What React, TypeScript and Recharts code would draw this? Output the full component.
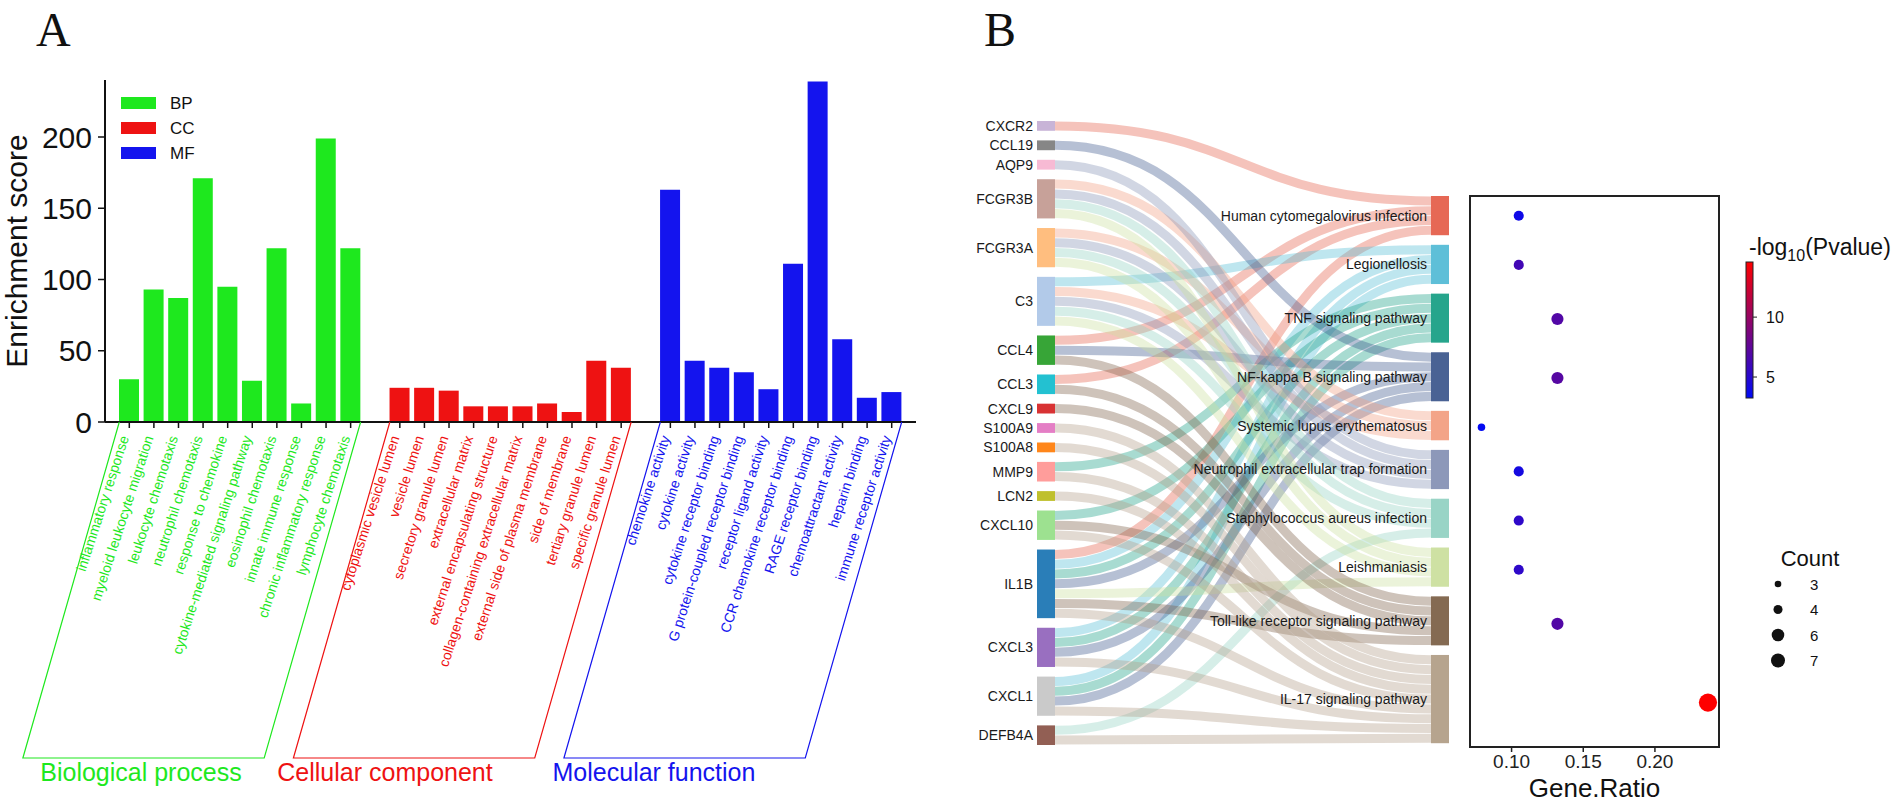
import React from "react";
import {
  BarChart,
  Bar,
  XAxis,
  YAxis,
  Cell,
  Sankey,
  ScatterChart,
  Scatter,
  ReferenceArea,
} from "recharts";

const FONT = "Arial, 'Liberation Sans', Helvetica, sans-serif";

// ---------- Panel A: GO enrichment ----------
const BP_TERMS = [
  "inflammatory response",
  "myeloid leukocyte migration",
  "leukocyte chemotaxis",
  "neutrophil chemotaxis",
  "response to chemokine",
  "cytokine-mediated signaling pathway",
  "eosinophil chemotaxis",
  "innate immune response",
  "chronic inflammatory response",
  "lymphocyte chemotaxis",
];
const BP_SCORES = [30, 93, 87, 171, 95, 29, 122, 13, 199, 122];

const CC_TERMS = [
  "cytoplasmic vesicle lumen",
  "vesicle lumen",
  "secretory granule lumen",
  "extracellular matrix",
  "external encapsulating structure",
  "collagen-containing extracellular matrix",
  "external side of plasma membrane",
  "side of membrane",
  "tertiary granule lumen",
  "specific granule lumen",
];
const CC_SCORES = [24, 24, 22, 11, 11, 11, 13, 7, 43, 38];

const MF_TERMS = [
  "chemokine activity",
  "cytokine activity",
  "cytokine receptor binding",
  "G protein-coupled receptor binding",
  "receptor ligand activity",
  "CCR chemokine receptor binding",
  "RAGE receptor binding",
  "chemoattractant activity",
  "heparin binding",
  "immune receptor activity",
];
const MF_SCORES = [163, 43, 38, 35, 23, 111, 239, 58, 17, 21];

const GROUP_CODES = ["BP", "CC", "MF"];
const GROUP_NAMES = ["Biological process", "Cellular component", "Molecular function"];
const GROUP_COLORS = ["#1ee81e", "#ee1212", "#1414ee"];
const SCORE_TICKS = [0, 50, 100, 150, 200];

// ---------- Panel B: Sankey + dot plot ----------
const GENES = [
  "CXCR2", "CCL19", "AQP9", "FCGR3B", "FCGR3A", "C3", "CCL4", "CCL3", "CXCL9",
  "S100A9", "S100A8", "MMP9", "LCN2", "CXCL10", "IL1B", "CXCL3", "CXCL1", "DEFB4A",
];
const GENE_COLORS = [
  "#c5b0d5", "#7f7f7f", "#f7b6d2", "#c49c94", "#ffbb78", "#aec7e8", "#2ca02c", "#17becf", "#d62728",
  "#e377c2", "#ff7f0e", "#ff9896", "#bcbd22", "#98df8a", "#1f77b4", "#9467bd", "#c7c7c7", "#8c564b",
];
const PATHWAYS = [
  "Human cytomegalovirus infection",
  "Legionellosis",
  "TNF signaling pathway",
  "NF-kappa B signaling pathway",
  "Systemic lupus erythematosus",
  "Neutrophil extracellular trap formation",
  "Staphylococcus aureus infection",
  "Leishmaniasis",
  "Toll-like receptor signaling pathway",
  "IL-17 signaling pathway",
];
const PATHWAY_COLORS = [
  "#e5604c", "#55bcd6", "#1aa086", "#3f5a8e", "#f29f82",
  "#8792b5", "#94d2c3", "#cbdf9e", "#7d6249", "#b29f88",
];
const PATHWAY_GENES = [
  ["CXCR2", "CCL4", "CCL3", "IL1B"],
  ["C3", "IL1B", "CXCL3", "CXCL1"],
  ["MMP9", "CXCL10", "IL1B", "CXCL3", "CXCL1"],
  ["CCL19", "CCL4", "IL1B", "CXCL3", "CXCL1"],
  ["FCGR3B", "FCGR3A", "C3"],
  ["AQP9", "FCGR3B", "FCGR3A", "C3"],
  ["FCGR3B", "FCGR3A", "C3", "DEFB4A"],
  ["FCGR3B", "FCGR3A", "C3", "IL1B"],
  ["CCL4", "CCL3", "CXCL9", "CXCL10", "IL1B"],
  ["S100A9", "S100A8", "MMP9", "LCN2", "CXCL10", "IL1B", "CXCL3", "CXCL1", "DEFB4A"],
];
const GENE_RATIO = [0.105, 0.105, 0.132, 0.132, 0.079, 0.105, 0.105, 0.105, 0.132, 0.237];
const NEG_LOG_P = [3.9, 6.2, 6.9, 7.1, 3.4, 4.2, 5.3, 5.3, 6.9, 14.6];
const P_RANGE = [3.25, 14.6];
const P_TICKS = [5, 10];
const RATIO_TICKS = [0.1, 0.15, 0.2];
const RATIO_DOMAIN = [0.071, 0.2447];
const COUNT_LEGEND = [3, 4, 6, 7];

// ---------- layout ----------
const A_LEFT = 105;
const A_RIGHT = 916;
const A_PAD = 12;
const A_AXIS_Y = 422;
const TICK_LEN = 6;
const HALF_BAR = 10;
const BRACKET_BOTTOM = 758;
const SLANT = 0.287;
const GROUP_LABEL_X = [141, 385, 654];
const GROUP_LABEL_Y = 772;

const SK_LEFT = 917;
const SK_TOP = 100;
const SK_MARGIN = { top: 21, left: 120, right: 5, bottom: 20 };
const SK_PAD = 9.6;
const RIGHT_SHIFT = 75; // pathway column starts lower than gene column

type GoRow = { term: string; score: number | null; group: number };
const GO_ROWS: GoRow[] = [];
[
  [BP_TERMS, BP_SCORES],
  [CC_TERMS, CC_SCORES],
  [MF_TERMS, MF_SCORES],
].forEach(([terms, scores], g) => {
  if (g > 0) GO_ROWS.push({ term: "", score: null, group: -1 });
  (terms as string[]).forEach((t, i) => GO_ROWS.push({ term: t, score: (scores as number[])[i], group: g }));
});
const STEP = (A_RIGHT - A_LEFT - 2 * A_PAD) / GO_ROWS.length;

const GoTick = (props: any) => {
  const { x, index } = props;
  const row = GO_ROWS[index];
  if (!row || row.group < 0) return null;
  const color = GROUP_COLORS[row.group];
  const y0 = A_AXIS_Y;
  const lx = x - 5;
  const ly = y0 + 14;
  const members = GO_ROWS.map((r, i) => (r.group === row.group ? i : -1)).filter((i) => i >= 0);
  const first = members[0];
  const last = members[members.length - 1];
  const drop = BRACKET_BOTTOM - y0;
  const leftTop = x - (index - first) * STEP - HALF_BAR;
  const rightTop = x + (last - index) * STEP + HALF_BAR;
  return (
    <g>
      <line x1={x} x2={x} y1={y0} y2={y0 + TICK_LEN} stroke="#111" strokeWidth={1.5} />
      <text
        x={lx}
        y={ly}
        transform={`rotate(-72 ${lx} ${ly})`}
        textAnchor="end"
        dominantBaseline="central"
        fontSize={14}
        fontFamily={FONT}
        fill={color}
      >
        {row.term}
      </text>
      {index === last && (
        <g>
          <polyline
            points={`${leftTop},${y0} ${leftTop - drop * SLANT},${BRACKET_BOTTOM} ${rightTop - drop * SLANT},${BRACKET_BOTTOM} ${rightTop},${y0}`}
            fill="none"
            stroke={color}
            strokeWidth={1.2}
          />
          <text
            x={GROUP_LABEL_X[row.group]}
            y={GROUP_LABEL_Y}
            textAnchor="middle"
            dominantBaseline="central"
            fontSize={25}
            fontFamily={FONT}
            fill={color}
          >
            {GROUP_NAMES[row.group]}
          </text>
        </g>
      )}
    </g>
  );
};

// sankey data
const SANKEY_NODES = [...GENES, ...PATHWAYS].map((name) => ({ name }));
const SANKEY_LINKS: { source: number; target: number; value: number }[] = [];
PATHWAY_GENES.forEach((genes, p) => {
  genes.forEach((g) => {
    SANKEY_LINKS.push({ source: GENES.indexOf(g), target: GENES.length + p, value: 1 });
  });
});
const SANKEY_DATA = { nodes: SANKEY_NODES, links: SANKEY_LINKS };

const nodeColor = (name: string) => {
  const gi = GENES.indexOf(name);
  if (gi >= 0) return GENE_COLORS[gi];
  return PATHWAY_COLORS[PATHWAYS.indexOf(name)];
};

const SankeyNode = (props: any) => {
  const { x, y, width, height, payload } = props;
  const isPath = PATHWAYS.indexOf(payload.name) >= 0;
  const yy = y + (isPath ? RIGHT_SHIFT : 0);
  return (
    <g>
      <rect x={x} y={yy} width={width} height={height} fill={nodeColor(payload.name)} fillOpacity={0.95} />
      <text
        x={x - 4}
        y={yy + height / 2}
        textAnchor="end"
        dominantBaseline="central"
        fontSize={14}
        fontFamily={FONT}
        fill="#1a1a1a"
      >
        {payload.name}
      </text>
    </g>
  );
};

const SankeyLink = (props: any) => {
  const { sourceX, sourceY, targetX, targetY, sourceControlX, targetControlX, linkWidth, payload } = props;
  const ty = targetY + RIGHT_SHIFT;
  const color = nodeColor(payload.target.name);
  return (
    <path
      d={`M${sourceX},${sourceY}C${sourceControlX},${sourceY} ${targetControlX},${ty} ${targetX},${ty}`}
      fill="none"
      stroke={color}
      strokeOpacity={0.38}
      strokeWidth={Math.max(1, linkWidth - 0.8)}
    />
  );
};

// dot plot rows, placed at the sankey node centres (gene units + node gaps)
const GAP_UNITS = 0.98;
const COUNTS = PATHWAY_GENES.map((g) => g.length);
const Y_MAX = COUNTS.reduce((a, b) => a + b, 0) + GAP_UNITS * (COUNTS.length - 1);
let acc = 0;
const DOT_ROWS = PATHWAYS.map((name, i) => {
  const pos = acc + COUNTS[i] / 2;
  acc += COUNTS[i] + GAP_UNITS;
  return { name, ratio: GENE_RATIO[i], pos, count: COUNTS[i], p: NEG_LOG_P[i] };
});

const pColor = (v: number) => {
  const t = Math.max(0, Math.min(1, (v - P_RANGE[0]) / (P_RANGE[1] - P_RANGE[0])));
  return `rgb(${Math.round(255 * t)},${Math.round(10 * (1 - t))},${Math.round(245 * (1 - t))})`;
};
const dotRadius = (c: number) => Math.sqrt(14 + 11.5 * (c - 3));
const legendRadius = (c: number) => Math.sqrt(11 + 9.5 * (c - 3));

const Dot = (props: any) => {
  const { cx, cy, payload } = props;
  return <circle cx={cx} cy={cy} r={dotRadius(payload.count)} fill={pColor(payload.p)} />;
};

// colour bar geometry
const CB_X = 1746;
const CB_W = 7;
const CB_TOP = 262;
const CB_BOT = 398;
const cbY = (v: number) => CB_BOT - ((v - P_RANGE[0]) / (P_RANGE[1] - P_RANGE[0])) * (CB_BOT - CB_TOP);

export default function App() {
  return (
    <div
      style={{
        position: "relative",
        width: 1901,
        height: 805,
        background: "#fff",
        overflow: "hidden",
        fontFamily: FONT,
      }}
    >
      <style>{"body{margin:0}"}</style>

      {/* Panel A */}
      <div style={{ position: "absolute", left: 0, top: 0 }}>
        <BarChart width={930} height={805} data={GO_ROWS} margin={{ top: 80, right: 14, left: 5, bottom: 13 }}>
          <XAxis
            dataKey="term"
            interval={0}
            height={370}
            tickLine={false}
            tickSize={TICK_LEN}
            tickMargin={0}
            axisLine={{ stroke: "#111", strokeWidth: 2 }}
            padding={{ left: A_PAD, right: A_PAD }}
            tick={<GoTick />}
          />
          <YAxis
            width={100}
            domain={[0, 240]}
            ticks={SCORE_TICKS}
            interval={0}
            tickSize={7}
            tickMargin={6}
            axisLine={{ stroke: "#111", strokeWidth: 2 }}
            tickLine={{ stroke: "#111", strokeWidth: 1.5 }}
            tick={{ fontSize: 30, fill: "#111", fontFamily: FONT }}
          />
          <Bar dataKey="score" barSize={20} isAnimationActive={false}>
            {GO_ROWS.map((r, i) => (
              <Cell key={i} fill={r.group >= 0 ? GROUP_COLORS[r.group] : "none"} />
            ))}
          </Bar>
        </BarChart>
      </div>

      {/* Panel B sankey */}
      <div style={{ position: "absolute", left: SK_LEFT, top: SK_TOP }}>
        <Sankey
          width={537}
          height={665}
          data={SANKEY_DATA}
          nodeWidth={18}
          nodePadding={SK_PAD}
          iterations={0}
          linkCurvature={0.5}
          margin={SK_MARGIN}
          node={SankeyNode}
          link={SankeyLink}
        />
      </div>

      {/* Panel B dot plot */}
      <div style={{ position: "absolute", left: 1440, top: 180 }}>
        <ScatterChart width={290} height={625} margin={{ top: 16, right: 11, left: 30, bottom: 8 }}>
          <XAxis
            type="number"
            dataKey="ratio"
            domain={RATIO_DOMAIN}
            ticks={RATIO_TICKS}
            interval={0}
            tickFormatter={(v: number) => v.toFixed(2)}
            height={50}
            axisLine={false}
            tickSize={5}
            tickMargin={3}
            tickLine={{ stroke: "#222", strokeWidth: 1.5 }}
            tick={{ fontSize: 19, fill: "#222", fontFamily: FONT }}
            label={{ value: "Gene.Ratio", position: "insideBottom", offset: 0, fontSize: 26, fill: "#111", fontFamily: FONT }}
          />
          <YAxis type="number" dataKey="pos" domain={[0, Y_MAX]} reversed hide />
          <ReferenceArea
            x1={RATIO_DOMAIN[0]}
            x2={RATIO_DOMAIN[1]}
            y1={0}
            y2={Y_MAX}
            fill="none"
            stroke="#222"
            strokeWidth={2}
            ifOverflow="visible"
          />
          <Scatter data={DOT_ROWS} shape={<Dot />} isAnimationActive={false} />
        </ScatterChart>
      </div>

      {/* annotations */}
      <svg
        width={1901}
        height={805}
        style={{ position: "absolute", left: 0, top: 0, pointerEvents: "none" }}
        fontFamily={FONT}
      >
        <text x={36} y={46} fontSize={48} fontFamily="'Liberation Serif', 'Times New Roman', serif" fill="#111">
          A
        </text>
        <text x={984} y={46} fontSize={48} fontFamily="'Liberation Serif', 'Times New Roman', serif" fill="#111">
          B
        </text>
        <text
          x={27}
          y={251}
          transform="rotate(-90 27 251)"
          textAnchor="middle"
          fontSize={30}
          fill="#111"
        >
          Enrichment score
        </text>

        {GROUP_CODES.map((code, i) => (
          <g key={code}>
            <rect x={121} y={97 + i * 25} width={35} height={12} fill={GROUP_COLORS[i]} />
            <text x={170} y={103 + i * 25} dominantBaseline="central" fontSize={17} fill="#111">
              {code}
            </text>
          </g>
        ))}

        <defs>
          <linearGradient id="pgrad" x1="0" y1="1" x2="0" y2="0">
            <stop offset="0%" stopColor={pColor(P_RANGE[0])} />
            <stop offset="100%" stopColor={pColor(P_RANGE[1])} />
          </linearGradient>
        </defs>
        <text x={1749} y={255} fontSize={23} fill="#111">
          -log
          <tspan dy={6} fontSize={16}>
            10
          </tspan>
          <tspan dy={-6}>(Pvalue)</tspan>
        </text>
        <rect x={CB_X} y={CB_TOP} width={CB_W} height={CB_BOT - CB_TOP} fill="url(#pgrad)" stroke="#222" strokeWidth={1} />
        {P_TICKS.map((v) => (
          <g key={v}>
            <line x1={CB_X + CB_W} x2={CB_X + CB_W + 4} y1={cbY(v)} y2={cbY(v)} stroke="#222" />
            <text x={1766} y={cbY(v)} dominantBaseline="central" fontSize={16} fill="#111">
              {v}
            </text>
          </g>
        ))}

        <text x={1810} y={558} textAnchor="middle" dominantBaseline="central" fontSize={22} fill="#111">
          Count
        </text>
        {COUNT_LEGEND.map((c, i) => (
          <g key={c}>
            <circle cx={1778} cy={584 + i * 25.5} r={legendRadius(c)} fill="#111" />
            <text x={1810} y={584 + i * 25.5} dominantBaseline="central" fontSize={15} fill="#111">
              {c}
            </text>
          </g>
        ))}
      </svg>
    </div>
  );
}
